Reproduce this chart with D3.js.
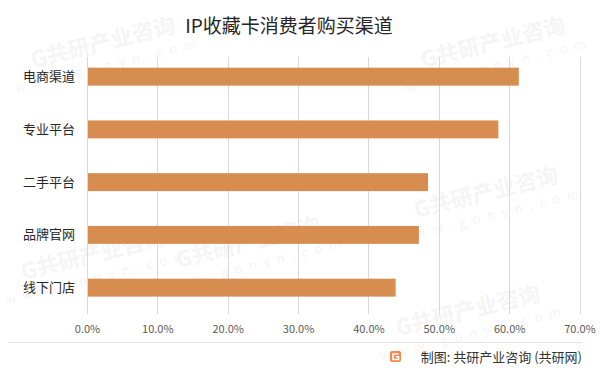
<!DOCTYPE html>
<html><head><meta charset="utf-8">
<script src="https://cdn.jsdelivr.net/npm/d3@7"></script>
<style>
html,body{margin:0;padding:0;background:#fff;}
svg{display:block;font-family:"Noto Sans CJK SC","Noto Sans",sans-serif;}
</style></head>
<body><svg id="c" width="600" height="373"></svg>
<script>
const categories = ["电商渠道","专业平台","二手平台","品牌官网","线下门店"];
const values = [61.3, 58.4, 48.4, 47.1, 43.8];
const tickValues = [0,10,20,30,40,50,60,70];
const title = "IP收藏卡消费者购买渠道";
const source = "制图: 共研产业咨询 (共研网)";

const svg = d3.select("#c");

// faint watermarks (kept inside the canvas)
const wm = svg.append("g").attr("fill","#f5f5f5");
const wmPos = [[105,50],[495,50],[250,250],[488,200],[470,318],[95,262]];
wmPos.forEach(([x,y])=>{
  const g = wm.append("g").attr("transform",`translate(${x},${y}) rotate(-14)`);
  g.append("text").attr("text-anchor","middle").attr("font-size",22).attr("font-weight","bold").text("G共研产业咨询");
  g.append("text").attr("text-anchor","middle").attr("y",20).attr("font-size",13).attr("letter-spacing",7).text("www.gonyn.com");
});

const x = d3.scaleLinear().domain([0,70]).range([87.5,580]);
const y = d3.scaleBand().domain(categories).range([50.3,314]).paddingInner(0.66).paddingOuter(0.33);

// gridlines
svg.append("g").selectAll("line").data(tickValues).join("line")
  .attr("x1",d=>x(d)).attr("x2",d=>x(d)).attr("y1",57).attr("y2",314)
  .attr("stroke","#d9d9d9").attr("stroke-width",1)
  .attr("shape-rendering","crispEdges");

// bars
svg.append("g").selectAll("rect").data(categories).join("rect")
  .attr("x",x(0)+0.5).attr("y",d=>y(d))
  .attr("width",(d,i)=>x(values[i])-x(0)-0.5).attr("height",y.bandwidth())
  .attr("fill","#D68D4F");

// category labels
svg.append("g").selectAll("text").data(categories).join("text")
  .attr("x",75).attr("y",d=>y(d)+y.bandwidth()/2).attr("dy","0.35em")
  .attr("text-anchor","end").attr("font-size",13).attr("fill","#262626").text(d=>d);

// x tick labels
svg.append("g").selectAll("text").data(tickValues).join("text")
  .attr("x",d=>x(d)).attr("y",329).attr("dy","0.35em").attr("text-anchor","middle")
  .attr("font-size",11).attr("fill","#595959").text(d=>d.toFixed(1)+"%");

// title
svg.append("text").attr("x",289).attr("y",26).attr("dy","0.35em").attr("text-anchor","middle")
  .attr("font-size",19).attr("fill","#262626").text(title);

// footer separator
svg.append("line").attr("x1",8).attr("x2",582).attr("y1",342).attr("y2",342)
  .attr("stroke","#e6e6e6").attr("stroke-width",1).attr("shape-rendering","crispEdges");

// logo
const lg = svg.append("g").attr("transform","translate(390,351)");
lg.append("rect").attr("width",11).attr("height",11).attr("rx",2).attr("fill","#F08A4B");
lg.append("path").attr("d","M8.5,3 H3 V8.5 H8.5 V5.8 H5.8").attr("fill","none").attr("stroke","#fff").attr("stroke-width",1.6);

// footer text
svg.append("text").attr("x",582).attr("y",357).attr("dy","0.35em").attr("text-anchor","end")
  .attr("font-size",13).attr("fill","#333").text(source);
</script></body></html>
